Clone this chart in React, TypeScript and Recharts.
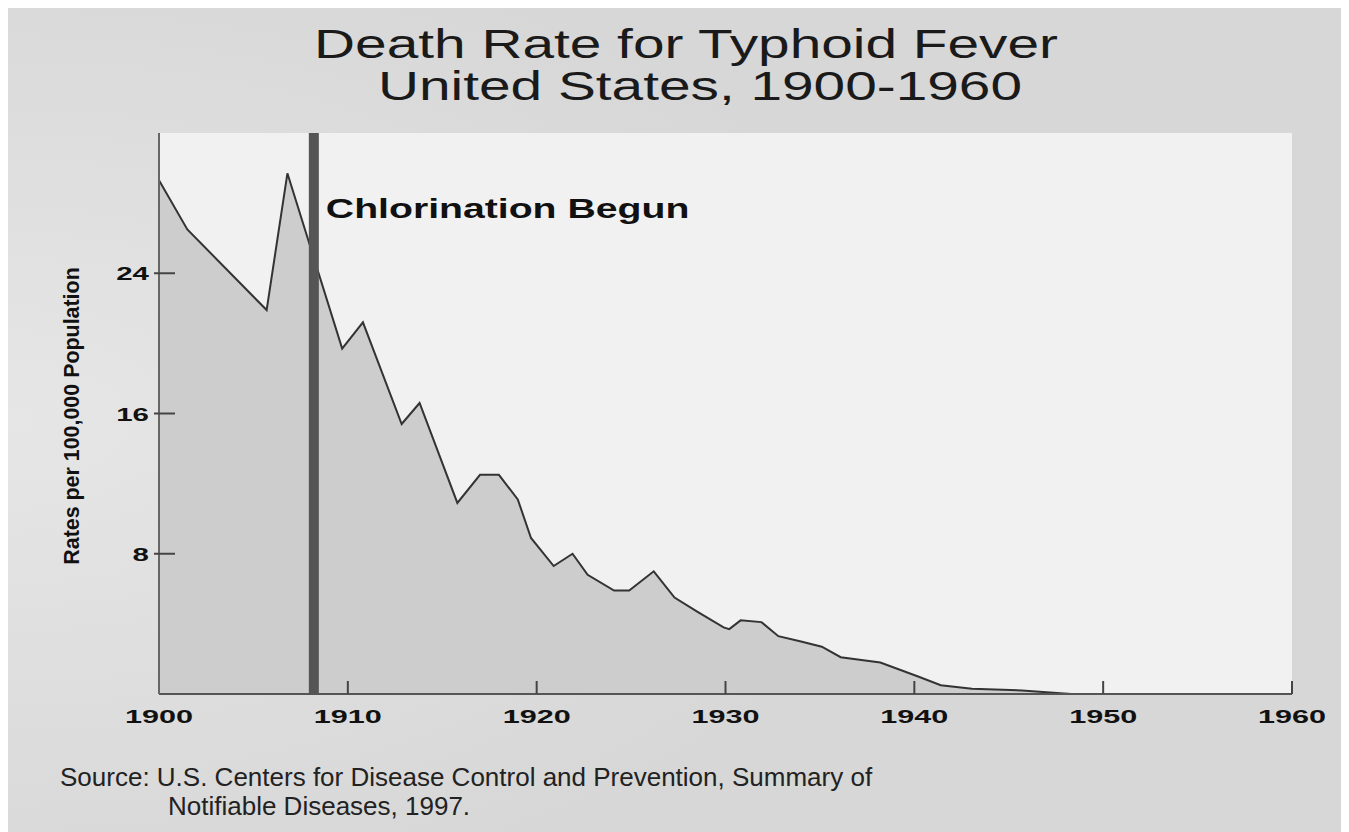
import React from 'react';
import { ComposedChart, Area, XAxis, YAxis, CartesianGrid, ReferenceLine } from 'recharts';

// years / rates (rate per 100,000 population)
const years = [
  1900, 1901.5, 1905.7, 1906.8, 1909.7, 1910.8, 1912.85, 1913.8, 1915.8, 1917.0,
  1918.0, 1919.0, 1919.7, 1920.9, 1921.9, 1922.7, 1924.1, 1924.9, 1926.2, 1927.3,
  1928.5, 1929.9, 1930.2, 1930.8, 1931.9, 1932.8, 1934.0, 1935.1, 1936.1, 1938.2,
  1940.2, 1941.4, 1943.05, 1945.7, 1948.3,
];
const rates = [
  29.3, 26.5, 21.9, 29.7, 19.7, 21.2, 15.4, 16.6, 10.9, 12.5,
  12.5, 11.1, 8.9, 7.3, 8.0, 6.8, 5.9, 5.9, 7.0, 5.5,
  4.7, 3.8, 3.7, 4.2, 4.1, 3.3, 3.0, 2.7, 2.1, 1.8,
  1.0, 0.5, 0.3, 0.2, 0,
];
const xTicks = [1900, 1910, 1920, 1930, 1940, 1950, 1960];
const yTicks = [8, 16, 24];
const CHLORINATION_YEAR = 1908.2;

const TITLE = ['Death Rate for Typhoid Fever', 'United States, 1900-1960'];
const SOURCE = [
  'Source: U.S. Centers for Disease Control and Prevention, Summary of',
  'Notifiable Diseases, 1997.',
];

const data = years.map((year, i) => ({ year, rate: rates[i] }));

const FONT = '"Liberation Sans", Arial, Helvetica, sans-serif';
const W = 1341;
const H = 824;

const XTick = ({ x, y, payload }: any) => (
  <g>
    {payload.value !== 1900 && (
      <line x1={x} x2={x} y1={y} y2={y - 13} stroke="#444" strokeWidth={2} />
    )}
    <text
      transform={`translate(${x},${y + 29}) scale(1.7,1)`}
      textAnchor="middle"
      fontFamily={FONT}
      fontWeight="bold"
      fontSize={18}
      fill="#111"
    >
      {payload.value}
    </text>
  </g>
);

const YTick = ({ x, y, payload }: any) => (
  <g>
    <line x1={x - 5} x2={x + 16} y1={y} y2={y} stroke="#444" strokeWidth={2} />
    <text
      transform={`translate(${x - 10},${y + 7}) scale(1.55,1)`}
      textAnchor="end"
      fontFamily={FONT}
      fontWeight="bold"
      fontSize={19}
      fill="#111"
    >
      {payload.value}
    </text>
  </g>
);

const ChlorinationLabel = ({ viewBox }: any) => (
  <text
    transform={`translate(${viewBox.x + 12},${viewBox.y + 85}) scale(1.4,1)`}
    fontFamily={FONT}
    fontWeight="bold"
    fontSize={28}
    fill="#111"
  >
    Chlorination Begun
  </text>
);

export default function App() {
  return (
    <div
      style={{
        position: 'relative',
        width: W,
        height: H,
        background: 'radial-gradient(ellipse 70% 60% at 0% 50%, #e6e6e6, #d7d7d7)',
        overflow: 'hidden',
      }}
    >
      <svg width={W} height={H} style={{ position: 'absolute', left: 0, top: 0 }}>
        <text
          transform="translate(678,50) scale(1.42,1)"
          textAnchor="middle"
          fontFamily={FONT}
          fontSize={40}
          fill="#1a1a1a"
        >
          {TITLE[0]}
        </text>
        <text
          transform="translate(692,92) scale(1.42,1)"
          textAnchor="middle"
          fontFamily={FONT}
          fontSize={40}
          fill="#1a1a1a"
        >
          {TITLE[1]}
        </text>
        <text
          transform="translate(63,408) rotate(-90) scale(1.26,1.3)"
          textAnchor="middle"
          dominantBaseline="central"
          fontFamily={FONT}
          fontWeight="bold"
          fontSize={17}
          fill="#111"
        >
          Rates per 100,000 Population
        </text>
        <text x={52} y={778} fontFamily={FONT} fontSize={26} fill="#222">
          {SOURCE[0]}
        </text>
        <text x={160} y={807} fontFamily={FONT} fontSize={26} fill="#222">
          {SOURCE[1]}
        </text>
      </svg>
      <div style={{ position: 'absolute', left: 0, top: 0 }}>
        <ComposedChart
          width={W}
          height={H}
          data={data}
          margin={{ top: 125, right: 57, bottom: 98, left: 0 }}
        >
          <CartesianGrid fill="#f1f1f1" stroke="none" horizontal={false} vertical={false} />
          <XAxis
            dataKey="year"
            type="number"
            domain={[1900, 1960]}
            ticks={xTicks}
            allowDataOverflow
            height={40}
            tickSize={0}
            tickMargin={0}
            tickLine={false}
            axisLine={{ stroke: '#555', strokeWidth: 2 }}
            tick={<XTick />}
            interval={0}
          />
          <YAxis
            type="number"
            domain={[0, 32]}
            ticks={yTicks}
            width={151}
            tickSize={0}
            tickMargin={0}
            tickLine={false}
            axisLine={{ stroke: '#666', strokeWidth: 2 }}
            tick={<YTick />}
            interval={0}
          />
          <Area
            type="linear"
            dataKey="rate"
            stroke="#333"
            strokeWidth={2}
            fill="#cdcdcd"
            fillOpacity={1}
            dot={false}
            activeDot={false}
            isAnimationActive={false}
          />
          <ReferenceLine
            x={CHLORINATION_YEAR}
            stroke="#555"
            strokeWidth={10}
            label={<ChlorinationLabel />}
          />
        </ComposedChart>
      </div>
    </div>
  );
}
